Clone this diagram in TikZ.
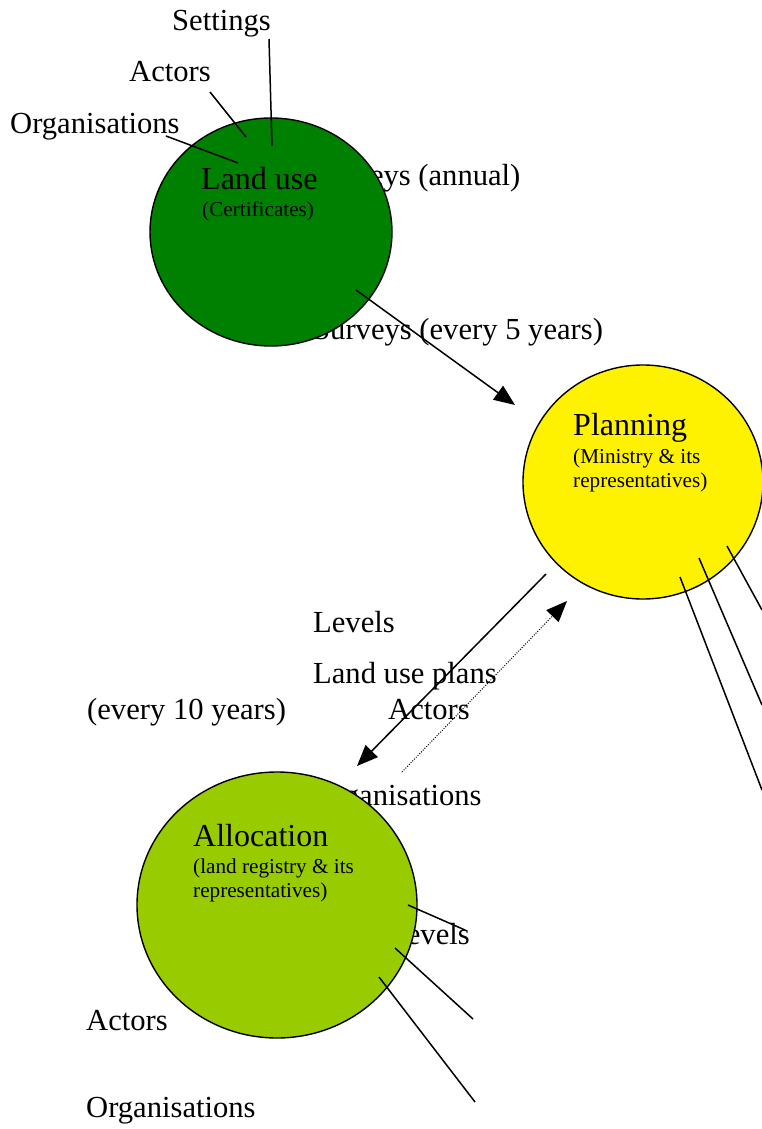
\documentclass[tikz,border=0pt]{standalone}
\usepackage{fontspec}
\setmainfont{Liberation Serif}
\usepackage{tikz}
\usetikzlibrary{arrows.meta,shapes.geometric}
\definecolor{landgreen}{RGB}{0,128,0}
\definecolor{allocgreen}{RGB}{153,204,0}
\tikzset{>={Triangle[length=21pt,width=17pt]}}
\tikzset{
  lbl/.style={anchor=base west,inner sep=0pt,font=\fontsize{30.6}{36}\selectfont},
  ttl/.style={anchor=base west,inner sep=0pt,font=\fontsize{32}{38}\selectfont},
  sub/.style={anchor=base west,inner sep=0pt,font=\fontsize{21.2}{24}\selectfont},
  zone/.style={ellipse,draw,line width=1.4pt,inner sep=0pt},
  lnk/.style={line width=1.5pt}
}

\begin{document}
\begin{tikzpicture}[x=1pt,y=-1pt]
  \useasboundingbox (0,0) rectangle (762,1129);
  \node[lbl] (settings) at (172,31) {Settings};
  \node[lbl] (actA) at (129,82) {Actors};
  \node[lbl] (orgA) at (10,133) {Organisations};
  \node[lbl] (annual) at (312,185) {Surveys (annual)};
  \node[lbl] (five) at (313,339) {Surveys (every 5 years)};
  \node[lbl] (levA) at (313,632) {Levels};
  \node[lbl] (plans) at (313,683) {Land use plans};
  \node[lbl] (ten) at (87,719) {(every 10 years)};
  \node[lbl] (actB) at (388,719) {Actors};
  \node[lbl] (orgB) at (312,805) {Organisations};
  \node[lbl] (levB) at (388,944) {Levels};
  \node[lbl] (actC) at (86,1030) {Actors};
  \node[lbl] (orgC) at (86,1117) {Organisations};
  \node[zone,fill=landgreen,minimum width=242pt,minimum height=228pt] (landuse) at (271,232) {};
  \node[zone,fill=yellow,minimum width=240pt,minimum height=234pt] (planning) at (643,482) {};
  \node[zone,fill=allocgreen,minimum width=280pt,minimum height=266pt] (allocation) at (277,905) {};
  \node[ttl] (luT) at (201,189) {Land use};
  \node[sub] (luS) at (202,216) {(Certificates)};
  \node[ttl] (plT) at (573,435) {Planning};
  \node[sub] (plS) at (573,463) {(Ministry \& its};
  \node[sub] (plR) at (573,487) {representatives)};
  \node[ttl] (alT) at (193,846) {Allocation};
  \node[sub] (alS) at (193,873) {(land registry \& its};
  \node[sub] (alR) at (193,897) {representatives)};
  \coordinate (s0) at (269,39);
  \coordinate (s1) at (272,146);
  \coordinate (a0) at (210,92);
  \coordinate (a1) at (246,137);
  \coordinate (o0) at (166,136);
  \coordinate (o1) at (238,163);
  \coordinate (lu0) at (356,290);
  \coordinate (pl0) at (515,405);
  \coordinate (pl1) at (546,574);
  \coordinate (al0) at (357,766);
  \coordinate (al1) at (402,772);
  \coordinate (pl2) at (567,601);
  \coordinate (p1a) at (680,577);
  \coordinate (p1b) at (762,790);
  \coordinate (p2a) at (699,558);
  \coordinate (p2b) at (762,705);
  \coordinate (p3a) at (727,546);
  \coordinate (p3b) at (762,610);
  \coordinate (q1a) at (408,905);
  \coordinate (q1b) at (465,930);
  \coordinate (q2a) at (395,948);
  \coordinate (q2b) at (473,1019);
  \coordinate (q3a) at (379,977);
  \coordinate (q3b) at (475,1102);
  \draw[lnk] (s0) -- (s1);
  \draw[lnk] (a0) -- (a1);
  \draw[lnk] (o0) -- (o1);
  \draw[lnk,->] (lu0) -- (pl0);
  \draw[lnk,->] (pl1) -- (al0);
  \draw[line width=1pt,dash pattern=on 1pt off 1.5pt,->] (al1) -- (pl2);
  \draw[lnk] (p1a) -- (p1b);
  \draw[lnk] (p2a) -- (p2b);
  \draw[lnk] (p3a) -- (p3b);
  \draw[lnk] (q1a) -- (q1b);
  \draw[lnk] (q2a) -- (q2b);
  \draw[lnk] (q3a) -- (q3b);
\end{tikzpicture}
\end{document}
